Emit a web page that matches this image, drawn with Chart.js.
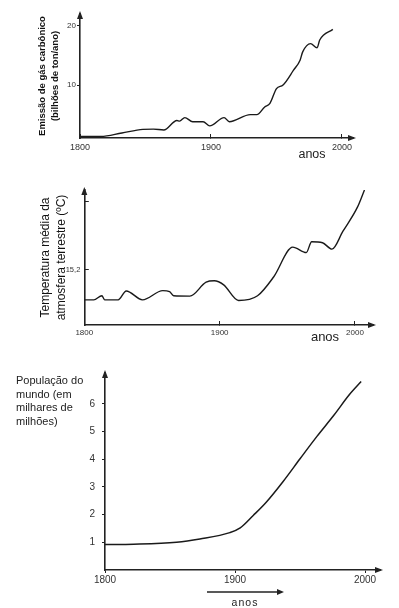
<!DOCTYPE html>
<html>
<head>
<meta charset="utf-8">
<script src="https://cdn.jsdelivr.net/npm/chart.js@4.4.0/dist/chart.umd.min.js"></script>
<style>
  html, body { margin: 0; padding: 0; background: #fff; }
  body { width: 399px; height: 608px; position: relative; overflow: hidden; }
  canvas { position: absolute; left: 0; }
</style>
</head>
<body>
<canvas id="c1" width="399" height="170" style="top:0;width:399px;height:170px"></canvas>
<canvas id="c2" width="399" height="175" style="top:175px;width:399px;height:175px"></canvas>
<canvas id="c3" width="399" height="248" style="top:360px;width:399px;height:248px"></canvas>
<script>
// CO2 emission (billion t / year)
const co2Years = [1800, 1816, 1832, 1848, 1856, 1864, 1874, 1876, 1880, 1886, 1894, 1899, 1910, 1914, 1930, 1935, 1941, 1945, 1950, 1955, 1963, 1968, 1970, 1976, 1981, 1983, 1993];
const co2Values = [1.3, 1.3, 1.9, 2.5, 2.55, 2.4, 4.0, 3.9, 4.5, 3.8, 3.8, 3.1, 4.5, 3.8, 5.0, 5.0, 6.3, 6.9, 9.4, 10.0, 12.5, 14.2, 15.6, 17.0, 16.3, 17.6, 19.4];
const co2YTicks = [10, 20];

// mean temperature (ºC)
const tempYears = [1800, 1807, 1813, 1815, 1825, 1831, 1843, 1858, 1863, 1866, 1878, 1890, 1896, 1903, 1914, 1928, 1940, 1954, 1964, 1968, 1976, 1983, 1991, 2002, 2007];
const tempValues = [15.112, 15.112, 15.124, 15.112, 15.112, 15.138, 15.112, 15.139, 15.136, 15.124, 15.123, 15.164, 15.168, 15.156, 15.11, 15.124, 15.18, 15.267, 15.251, 15.283, 15.28, 15.261, 15.313, 15.386, 15.435];
const tempYTicks = [15.2, 15.4];
const tempYLabels = ['15,2', ''];

// world population (thousands of millions)
const popYears = [1800, 1822, 1855, 1873, 1896, 1904, 1914, 1924, 1937, 1950, 1963, 1976, 1988, 1997];
const popValues = [0.92, 0.93, 1.0, 1.12, 1.35, 1.52, 1.97, 2.45, 3.2, 4.02, 4.83, 5.59, 6.34, 6.81];
const popYTicks = [1, 2, 3, 4, 5, 6];

const xTicks = [1800, 1900, 2000];

const FONT = "'Liberation Sans', Arial, sans-serif";
const INK = '#222';

// axis arrowheads + loose texts
const deco = {
  id: 'deco',
  afterDraw(chart, args, opts) {
    const { ctx, chartArea: a } = chart;
    ctx.save();
    ctx.fillStyle = INK;
    ctx.strokeStyle = INK;
    ctx.beginPath();
    ctx.moveTo(a.left, a.top - 3); ctx.lineTo(a.left - 3, a.top + 5); ctx.lineTo(a.left + 3, a.top + 5);
    ctx.fill();
    ctx.beginPath();
    ctx.moveTo(a.right + 3, a.bottom); ctx.lineTo(a.right - 5, a.bottom - 3); ctx.lineTo(a.right - 5, a.bottom + 3);
    ctx.fill();
    (opts.texts || []).forEach((t) => {
      ctx.font = t.font;
      ctx.letterSpacing = t.spacing || '0px';
      ctx.textAlign = t.align || 'center';
      ctx.textBaseline = 'middle';
      ctx.fillText(t.text, t.x, t.y);
    });
    ctx.letterSpacing = '0px';
    if (opts.arrow) {
      const r = opts.arrow;
      ctx.lineWidth = 1.5;
      ctx.beginPath(); ctx.moveTo(r.x1, r.y); ctx.lineTo(r.x2 - 4, r.y); ctx.stroke();
      ctx.beginPath();
      ctx.moveTo(r.x2 + 1, r.y); ctx.lineTo(r.x2 - 6, r.y - 3); ctx.lineTo(r.x2 - 6, r.y + 3);
      ctx.fill();
    }
    ctx.restore();
  }
};

function axisChart(id, xs, ys, o) {
  return new Chart(document.getElementById(id), {
    type: 'line',
    data: {
      datasets: [{
        data: xs.map((x, i) => ({ x, y: ys[i] })),
        borderColor: '#1a1a1a', borderWidth: o.lw || 1.4, pointRadius: 0,
        cubicInterpolationMode: 'monotone', fill: false
      }]
    },
    options: {
      responsive: false, animation: false, events: [],
      layout: { padding: o.pad },
      plugins: { legend: { display: false }, tooltip: { enabled: false }, deco: o.deco },
      scales: {
        x: {
          type: 'linear', min: o.xMin, max: o.xMax,
          afterBuildTicks: (s) => { s.ticks = xTicks.map((v) => ({ value: v })); },
          afterFit: (s) => { s.height = o.xH; },
          border: { color: INK, width: 1.6 },
          grid: { drawOnChartArea: false, tickLength: o.xTL, color: INK, lineWidth: 1 },
          ticks: { padding: o.xTP, color: '#333', font: { family: FONT, size: o.xFont }, callback: (v) => String(v), maxRotation: 0 }
        },
        y: {
          min: o.yMin, max: o.yMax,
          afterBuildTicks: (s) => { s.ticks = o.yTicks.map((v) => ({ value: v })); },
          afterFit: (s) => { s.width = o.yW; },
          border: { color: INK, width: 1.6 },
          grid: { drawOnChartArea: false, tickLength: o.yTL, color: INK, lineWidth: 1 },
          ticks: { padding: o.yTP, color: '#333', font: { family: FONT, size: o.yFont }, callback: o.yLabel || ((v) => String(v)) },
          title: o.yTitle || { display: false }
        }
      }
    },
    plugins: [deco]
  });
}

axisChart('c1', co2Years, co2Values, {
  pad: { top: 14, left: 35, right: 46, bottom: 0 },
  xMin: 1800, xMax: 2008.4, xH: 32, xTL: -4, xTP: 8, xFont: 9,
  yMin: 1.05, yMax: 22, yTicks: co2YTicks, yW: 45, yTL: 3, yTP: 1, yFont: 8,
  yTitle: {
    display: true, text: ['Emissão de gás carbônico', '(bilhões de ton/ano)'], color: '#111',
    font: { family: FONT, size: 9.5, weight: 'bold', lineHeight: 1.45 }, padding: { top: 0, bottom: 0 }
  },
  deco: { texts: [{ text: 'anos', x: 312, y: 155, font: `12.5px ${FONT}` }] }
});

axisChart('c2', tempYears, tempValues, {
  pad: { top: 15, left: 37, right: 26, bottom: 0 },
  xMin: 1800, xMax: 2013.3, xH: 25, xTL: -4, xTP: 6.5, xFont: 8,
  yMin: 15.038, yMax: 15.435, yTicks: tempYTicks, yW: 47.3, yTL: -4.5, yTP: 8.5, yFont: 7.5,
  yLabel: (v, i) => tempYLabels[i],
  yTitle: {
    display: true, text: ['Temperatura média da', 'atmosfera terrestre (ºC)'], color: '#111',
    font: { family: FONT, size: 12, lineHeight: 1.375 }, padding: { top: 0, bottom: 0 }
  },
  deco: { texts: [{ text: 'anos', x: 325, y: 162, font: `13px ${FONT}` }] }
});

axisChart('c3', popYears, popValues, {
  lw: 1.5,
  pad: { top: 6, left: 0, right: 19, bottom: 0 },
  xMin: 1800, xMax: 2011.5, xH: 38, xTL: 3, xTP: 1.6, xFont: 10,
  yMin: 0, yMax: 7.12, yTicks: popYTicks, yW: 105, yTL: 3, yTP: 7, yFont: 10,
  deco: {
    texts: [
      { text: 'População do', x: 16, y: 21, align: 'left', font: `11px ${FONT}` },
      { text: 'mundo (em', x: 16, y: 35, align: 'left', font: `11px ${FONT}` },
      { text: 'milhares de', x: 16, y: 48, align: 'left', font: `11px ${FONT}` },
      { text: 'milhões)', x: 16, y: 62, align: 'left', font: `11px ${FONT}` },
      { text: 'anos', x: 245, y: 243, font: `10.5px ${FONT}`, spacing: '1px' }
    ],
    arrow: { x1: 207, x2: 283, y: 232 }
  }
});
</script>
</body>
</html>
